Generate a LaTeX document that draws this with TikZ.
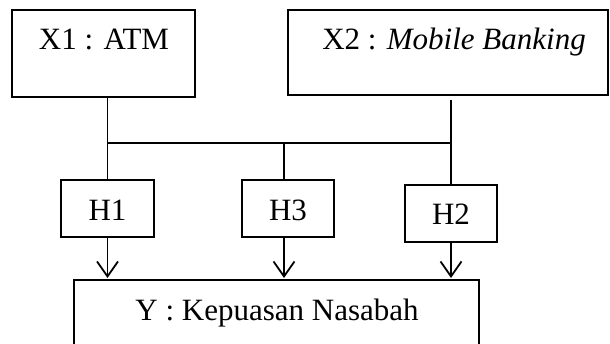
\documentclass[tikz,border=0pt]{standalone}
\usepackage{fontspec}
\setmainfont{Liberation Serif}
\usetikzlibrary{arrows.meta}
\begin{document}
\begin{tikzpicture}[x=1pt,y=-1pt,
  box/.style={draw,line width=1.8pt,inner sep=0pt,outer sep=0pt,anchor=north west},
  openbox/.style={inner sep=0pt,outer sep=0pt,anchor=north west},
  txt/.style={inner sep=0pt,anchor=base,font=\fontsize{31}{36}\selectfont},
  ln/.style={line width=1.8pt},
  arr/.style={line width=1.8pt,-{Straight Barb[length=15pt,width=21pt,line width=1.8pt]},shorten >=2pt}]
\useasboundingbox (0,0) rectangle (610,344);
% boxes
\node[box,minimum width=183pt,minimum height=87pt] (x1) at (12,10) {};
\node[box,minimum width=320pt,minimum height=85pt] (x2) at (288,10) {};
\node[box,minimum width=93pt,minimum height=57pt] (h1) at (61,180) {};
\node[box,minimum width=92pt,minimum height=57pt] (h3) at (242,180) {};
\node[box,minimum width=92pt,minimum height=57pt] (h2) at (405,185) {};
\node[openbox,minimum width=405pt,minimum height=80pt] (y) at (74,280) {};
\draw[ln] (y.south west) -- (y.north west) -- (y.north east) -- (y.south east);
% texts
\node[txt] (tx1) at (104,50) {X1 : ATM};
\node[txt] (tx2) at (454,50) {X2 : \textit{Mobile Banking}};
\node[txt] (th1) at (107.5,221) {H1};
\node[txt] (th3) at (288,221) {H3};
\node[txt] (th2) at (451,225) {H2};
\node[txt] (ty) at (277,320) {Y : Kepuasan Nasabah};
% connectors
\coordinate (j1) at (h1.north |- 0,143);
\coordinate (j2) at (h2.north |- 0,143);
\coordinate (j3) at (284,143);
\draw[ln] (h1.north |- x1.south) -- (h1.north);
\draw[ln] (j1) -- (j2);
\draw[ln,shorten <=5pt] (h2.north |- x2.south) -- (h2.north);
\draw[ln] (j3) -- (j3 |- h3.north);
\draw[arr] (h1.south) -- (h1.south |- y.north);
\draw[arr] (j3 |- h3.south) -- (j3 |- y.north);
\draw[arr] (h2.south) -- (h2.south |- y.north);
\end{tikzpicture}
\end{document}
